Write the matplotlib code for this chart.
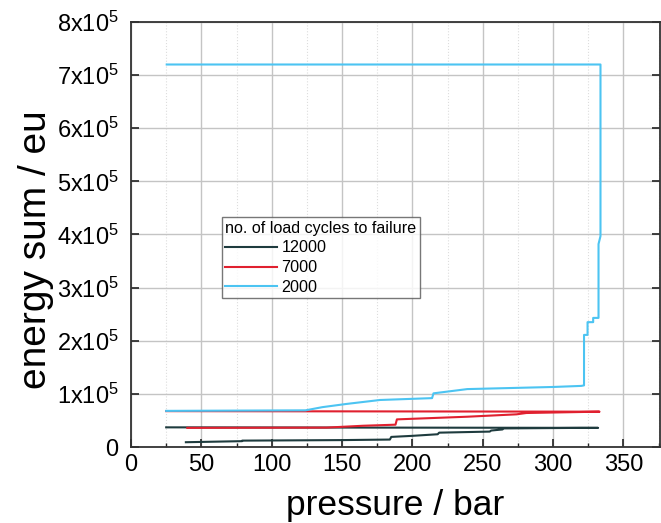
import matplotlib
matplotlib.use('Agg')
import matplotlib.pyplot as plt
from matplotlib.ticker import FixedLocator, MultipleLocator

plt.rcParams['font.family'] = ['Liberation Sans', 'DejaVu Sans']
plt.rcParams['mathtext.fontset'] = 'custom'
plt.rcParams['mathtext.rm'] = 'Liberation Sans'
plt.rcParams['mathtext.it'] = 'Liberation Sans'

# 12000 cycles: rising branch then flat return branch (energy in 1e3 eu)
p_12000 = [39, 79, 79, 150, 184, 185, 200, 218, 219, 255, 256, 264, 265, 320, 332, 332, 25]
e_12000 = [9, 11, 12, 13, 14, 19, 21, 24, 27, 29, 31, 33, 35, 36, 36, 36, 37]

# 7000 cycles
p_7000 = [40, 139, 165, 188, 189, 239, 274, 281, 333, 333, 25]
e_7000 = [36, 36.5, 40, 42, 52, 57, 61.5, 64, 66.5, 66.5, 67.5]

# 2000 cycles
p_2000 = [25, 124, 136, 153, 177, 214, 215, 239, 300, 320, 322, 322, 324.5, 324.5,
          328.5, 328.5, 332.3, 332.3, 333.7, 333.7, 333.7, 25.4]
e_2000 = [68, 69, 75, 81, 88.5, 92, 101, 109, 113, 115, 116, 211, 211, 235,
          235, 243, 243, 382, 397, 460, 720, 720]

labels = ['12000', '7000', '2000']
colors = ['#1e3b3e', '#e0202f', '#4cc4f2']

yticks = [0, 1e5, 2e5, 3e5, 4e5, 5e5, 6e5, 7e5, 8e5]
ytick_labels = ['0'] + [r'$\mathregular{%dx10^{5}}$' % i for i in range(1, 9)]

fig = plt.figure(figsize=(6.61, 5.23), dpi=100)
ax = fig.add_axes([131 / 661, 1 - 447 / 523, 529 / 661, 425 / 523])

series = [(p_12000, e_12000), (p_7000, e_7000), (p_2000, e_2000)]
for (p, e), lab, c in zip(series, labels, colors):
    ax.plot(p, [v * 1000 for v in e], color=c, lw=1.5, label=lab)

ax.set_xlim(0, 376)
ax.set_ylim(0, 8e5)
ax.xaxis.set_major_locator(MultipleLocator(50))
ax.xaxis.set_minor_locator(MultipleLocator(25))
ax.yaxis.set_major_locator(FixedLocator(yticks))
ax.set_yticklabels(ytick_labels)

ax.grid(True, which='major', color='#c4c4c4', lw=1.0)
ax.grid(True, which='minor', axis='x', color='#dddddd', lw=0.8, ls=':')
ax.set_axisbelow(True)

ax.tick_params(which='both', direction='in', right=True, labelsize=17, colors='#222222')
ax.tick_params(which='major', length=6, width=1.2)
ax.tick_params(which='minor', length=3, width=1.0, right=False)
ax.tick_params(axis='x', labelcolor='black', pad=5)
ax.tick_params(axis='y', labelcolor='black', pad=9)
for s in ax.spines.values():
    s.set_linewidth(1.3)
    s.set_color('#333333')

ax.set_xlabel('pressure / bar', fontsize=25.5)
ax.set_ylabel('energy sum / eu', fontsize=28)
ax.xaxis.set_label_coords(0.5, -0.098)
ax.yaxis.set_label_coords(-0.146, 0.4635)

leg = ax.legend(title='no. of load cycles to failure', loc='lower left',
                bbox_to_anchor=(0.172, 0.35), borderaxespad=0,
                fontsize=11.6, title_fontsize=11.6,
                frameon=True, fancybox=False, edgecolor='#555555',
                handlelength=3.2, handletextpad=0.3, borderpad=0.2,
                labelspacing=0.3, alignment='left')
leg.get_frame().set_linewidth(1.0)

fig.savefig('out.png', dpi=100)
